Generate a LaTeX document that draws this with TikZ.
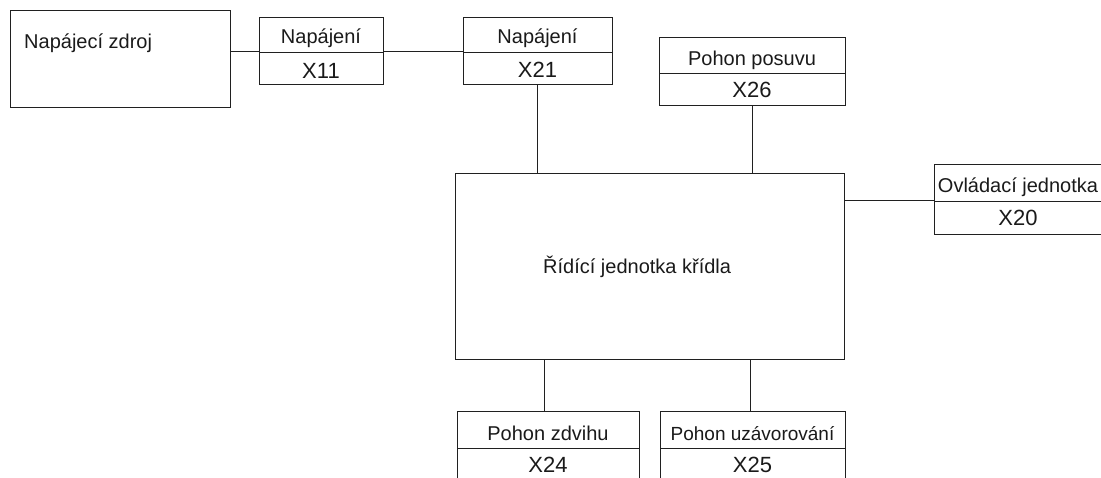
\documentclass[tikz,border=0pt]{standalone}
\usepackage{fontspec}
\setmainfont{Liberation Sans}
\definecolor{linec}{HTML}{202020}
\definecolor{textc}{HTML}{1A1A1A}
\tikzset{
  part/.style={draw=linec, line width=1pt, inner sep=0pt, text depth=0pt, text=textc, font=\fontsize{20}{24}\selectfont},
  xpart/.style={part, font=\fontsize{22}{26}\selectfont},
  lbl/.style={inner sep=0pt, text=textc, font=\fontsize{20}{24}\selectfont},
  wire/.style={draw=linec, line width=1pt},
}
\begin{document}
\begin{tikzpicture}[x=1pt, y=-1pt]
\useasboundingbox (0,0) rectangle (1101,477);
\clip (0,0) rectangle (1101,477);
% power supply
\node[part, minimum width=220, minimum height=96.3] (psu) at (120.7,58.85) {};
\node[lbl, anchor=base west] (psulbl) at (24,48) {Napájecí zdroj};
% X11
\node[part, minimum width=124, minimum height=35, text height=17] (x11t) at (321,34.5) {Napájení};
\node[xpart, minimum width=124, minimum height=32, text height=21] (x11b) at (321,68) {X11};
% X21
\node[part, minimum width=149, minimum height=35, text height=17] (x21t) at (537.5,34.5) {Napájení};
\node[xpart, minimum width=149, minimum height=32, text height=19] (x21b) at (537.5,68) {X21};
% X26
\node[part, minimum width=186, minimum height=36, text height=20] (x26t) at (752,55) {Pohon posuvu};
\node[xpart, minimum width=186, minimum height=32, text height=16] (x26b) at (752,89) {X26};
% main
\node[part, minimum width=389, minimum height=186] (main) at (649.5,266) {};
\node[lbl, anchor=base west] (mainlbl) at (543,273) {Řídící jednotka křídla};
% X20
\node[part, minimum width=168, minimum height=37, text height=19] (x20t) at (1018,182.5) {Ovládací jednotka};
\node[xpart, minimum width=168, minimum height=33, text height=15] (x20b) at (1018,217.5) {X20};
% X24
\node[part, minimum width=182, minimum height=37, text height=21] (x24t) at (548,429.5) {Pohon zdvihu};
\node[xpart, minimum width=182, minimum height=34, text height=14] (x24b) at (548,465) {X24};
% X25
\node[part, minimum width=185, minimum height=37, text height=21, font=\fontsize{19}{23}\selectfont] (x25t) at (752.5,429.5) {Pohon uzávorování};
\node[xpart, minimum width=185, minimum height=34, text height=14] (x25b) at (752.5,465) {X25};
% connectors
\draw[wire] (x11b.north west -| psu.east) -- (x11b.north west);
\draw[wire] (x11b.north east) -- (x21b.north west);
\draw[wire] (x21b.south) -- (x21b.south |- main.north);
\draw[wire] (x26b.south) -- (x26b.south |- main.north);
\draw[wire] (x20b.north west -| main.east) -- (x20b.north west);
\draw[wire] ([xshift=-4pt]x24t.north) -- ([xshift=-4pt]x24t.north |- main.south);
\draw[wire] ([xshift=-2.5pt]x25t.north) -- ([xshift=-2.5pt]x25t.north |- main.south);
\end{tikzpicture}
\end{document}
